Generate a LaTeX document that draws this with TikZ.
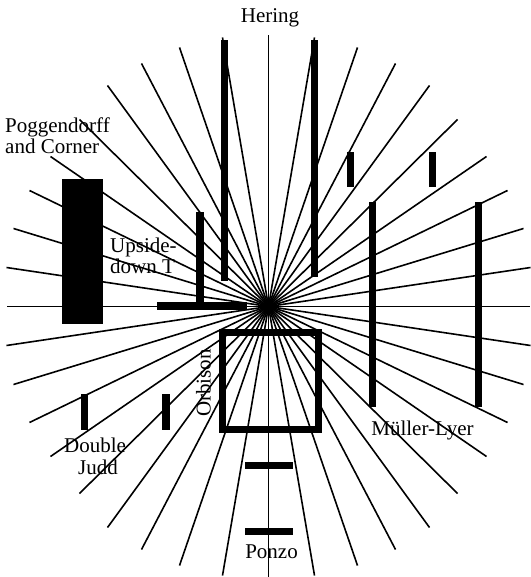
\documentclass[tikz,border=0pt]{standalone}
\usepackage{fontspec}
\setmainfont{Liberation Serif}
\begin{document}
\begin{tikzpicture}[x=1pt,y=-1pt,
  ray/.style={line width=1.6pt},
  bar/.style={fill=black},
  lbl/.style={font=\fontsize{21}{21}\selectfont, inner sep=0pt}]
\useasboundingbox (0,0) rectangle (530,577);
\coordinate (c) at (268.5,306.5);
% radiating lines
\foreach \a/\b in {261.5/0,262/39,255/78,239/116,218/150,189/187,161/221,127/243,89/259,46/269,0/271}{
  \draw[ray] (c) -- ++(\a,-\b);
  \draw[ray] (c) -- ++(-\a,-\b);
  \draw[ray] (c) -- ++(\a,\b);
  \draw[ray] (c) -- ++(-\a,\b);
}
% Hering
\fill[bar] (221,40) rectangle (228,281);
\fill[bar] (311,40) rectangle (318,277);
% small bars top right
\fill[bar] (347,152) rectangle (354,187);
\fill[bar] (429,152) rectangle (436,187);
% Mueller-Lyer
\fill[bar] (369,202) rectangle (376,407);
\fill[bar] (475,202) rectangle (482,407);
% Poggendorff
\fill[bar] (62,179) rectangle (103,324);
% Upside-down T
\fill[bar] (196,212) rectangle (204,306);
\fill[bar] (157,302) rectangle (247,310);
% Orbison
\draw[line width=7pt] (222,332) rectangle (318,429.7);
% Double Judd
\fill[bar] (81,394) rectangle (88,430);
\fill[bar] (162,394) rectangle (170,430);
% Ponzo
\fill[bar] (245,462) rectangle (293,469);
\fill[bar] (245,528) rectangle (293,535);
% labels
\node[lbl, anchor=base] (hering) at (270,22.5) {Hering};
\node[lbl, anchor=base west] (pogg1) at (5,133) {Poggendorff};
\node[lbl, anchor=base west] (pogg2) at (5,153.3) {and Corner};
\node[lbl, anchor=base west] (up1) at (110,252) {Upside-};
\node[lbl, anchor=base west] (up2) at (110,273) {down T};
\node[lbl, anchor=base, rotate=90] (orb) at (210.5,383) {Orbison};
\node[lbl, anchor=base] (dj1) at (95,452.7) {Double};
\node[lbl, anchor=base] (dj2) at (98,474) {Judd};
\node[lbl, anchor=base] (ml) at (422.5,435) {Müller-Lyer};
\node[lbl, anchor=base] (ponzo) at (271.5,558) {Ponzo};
\end{tikzpicture}
\end{document}
